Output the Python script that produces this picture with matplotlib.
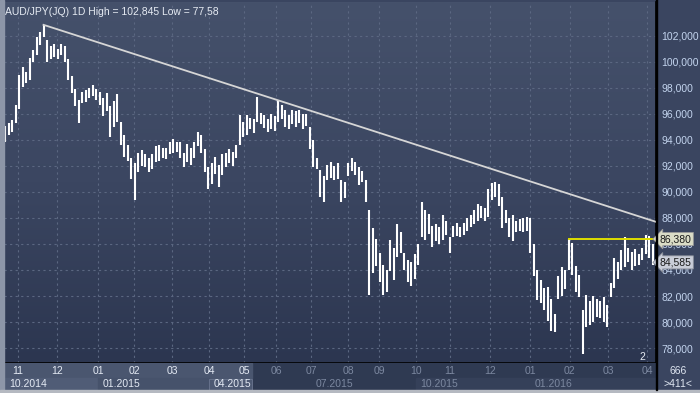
import numpy as np
import matplotlib
matplotlib.use('Agg')
from matplotlib import pyplot as plt
from matplotlib.colors import LinearSegmentedColormap
from matplotlib.patches import Rectangle

plt.rcParams['font.family'] = ['Liberation Sans', 'DejaVu Sans']

# daily bars (every second session)
lows = [93.8, 94.4, 94.6, 95.3, 96.4, 98.1, 98.4, 98.6, 100.0, 100.5,
        101.3, 101.9, 100.0, 100.2, 100.4, 100.2, 100.5, 100.0, 98.6, 97.6,
        96.6, 95.3, 96.8, 96.9, 97.2, 97.4, 97.1, 96.7, 95.8, 96.2,
        94.2, 95.0, 95.4, 93.6, 92.7, 92.4, 91.0, 89.4, 91.5, 92.0,
        91.9, 91.5, 91.8, 92.3, 92.4, 92.6, 92.5, 92.9, 93.0, 93.1,
        92.6, 91.9, 92.3, 92.1, 92.6, 93.5, 93.0, 91.5, 90.2, 90.6,
        91.4, 90.4, 91.3, 91.9, 92.2, 92.0, 92.6, 93.6, 94.2, 94.4,
        94.8, 94.5, 95.4, 95.2, 94.9, 94.6, 94.8, 94.7, 95.4, 95.6,
        95.0, 94.8, 95.2, 95.0, 95.3, 94.8, 95.1, 93.3, 91.9, 91.8,
        89.6, 89.2, 90.9, 91.1, 90.9, 91.0, 89.2, 89.5, 91.2, 91.6,
        91.3, 90.5, 90.8, 89.2, 82.1, 83.8, 84.3, 83.1, 82.1, 82.3,
        83.9, 83.2, 85.0, 85.3, 84.0, 83.1, 82.8, 83.3, 84.4, 86.5,
        86.3, 86.8, 85.8, 86.2, 86.0, 86.3, 86.7, 85.3, 86.5, 86.6,
        86.5, 86.7, 87.0, 87.3, 87.5, 87.8, 88.0, 87.8, 88.1, 89.4,
        89.6, 88.9, 87.2, 87.6, 86.5, 86.2, 86.9, 87.0, 86.9, 87.0,
        85.3, 83.5, 81.7, 81.5, 80.9, 80.1, 79.3, 79.2, 81.8, 82.0,
        82.5, 84.0, 83.6, 82.3, 81.9, 77.58, 79.6, 79.8, 80.0, 80.4,
        80.3, 80.0, 79.6, 81.9, 82.6, 83.3, 84.0, 84.2, 84.6, 84.0,
        84.3, 84.4, 84.8, 85.2, 84.9, 84.4]
highs = [95.1, 95.3, 95.5, 96.7, 99.0, 99.6, 99.2, 100.3, 100.9, 101.9,
         102.3, 102.845, 101.7, 101.2, 101.4, 101.0, 101.4, 101.2, 100.2, 98.9,
         97.9, 97.1, 97.7, 97.8, 98.0, 98.2, 97.9, 97.7, 97.2, 97.6,
         96.6, 97.0, 97.5, 95.4, 94.4, 93.6, 92.6, 92.2, 93.0, 93.2,
         92.9, 92.6, 92.9, 93.5, 93.6, 93.4, 93.4, 93.8, 94.1, 93.8,
         93.8, 93.0, 93.7, 93.4, 93.8, 94.6, 94.4, 93.3, 91.9, 92.2,
         92.7, 92.1, 92.9, 93.0, 93.3, 93.1, 93.6, 95.9, 95.4, 95.9,
         95.7, 95.6, 97.3, 96.1, 95.9, 95.6, 96.0, 95.8, 97.1, 96.7,
         96.3, 95.9, 96.3, 96.2, 96.3, 96.0, 96.0, 95.0, 94.0, 92.6,
         91.7, 91.2, 92.1, 92.3, 92.0, 92.2, 90.9, 90.8, 92.2, 92.6,
         92.3, 91.9, 91.6, 90.9, 88.6, 87.2, 86.4, 85.3, 84.4, 84.0,
         86.3, 85.7, 87.5, 86.9, 85.3, 84.8, 84.6, 85.2, 86.0, 89.2,
         88.6, 88.3, 87.4, 87.5, 87.3, 88.2, 87.8, 86.5, 87.4, 87.6,
         87.3, 87.6, 88.0, 88.2, 88.6, 89.1, 88.9, 88.8, 90.2, 90.7,
         90.8, 90.6, 89.6, 88.6, 88.0, 88.2, 87.8, 87.9, 88.0, 88.1,
         88.0, 86.0, 84.0, 83.2, 82.6, 82.7, 81.8, 80.6, 83.5, 84.2,
         84.0, 86.38, 86.1, 84.3, 83.6, 80.9, 82.1, 81.6, 82.0, 81.8,
         81.6, 81.9, 81.3, 83.0, 84.9, 84.6, 85.5, 86.5, 85.7, 85.4,
         85.6, 85.2, 85.7, 86.7, 86.6, 86.0]
last_close = 84.585
resistance = 86.38
trend_start = (11, 102.845)
trend_end = (186, 87.7)

month_labels = ['11', '12', '01', '02', '03', '04', '05', '06', '07', '08',
                '09', '10', '11', '12', '01', '02', '03', '04']
month_pos = [3.7, 14.9, 26.6, 36.9, 47.7, 58.3, 68.3, 77.4, 87.4, 98.0,
             106.9, 117.4, 127.1, 138.6, 150.0, 161.4, 172.3, 183.4]
year_labels = ['10.2014', '01.2015', '04.2015', '07.2015', '10.2015', '01.2016']
year_pos = [0.0, 26.6, 58.3, 87.4, 117.4, 150.0]
bright_until = 70.6  # highlighted part of the time band

W, H = 700, 393
fig = plt.figure(figsize=(7, 3.93), dpi=100, facecolor='#3a4560')

# frame strips
fig.patches.append(Rectangle((0, 0), 4 / W, 1, transform=fig.transFigure,
                             color='#8d96a8', zorder=0))
fig.patches.append(Rectangle((0, 0), 1, 3 / H, transform=fig.transFigure,
                             color='#b5b9c1', zorder=0))

ax = fig.add_axes([4 / W, 30 / H, 652 / W, 361 / H])
xmin, xmax = -0.29, 186.0
ymin, ymax = 76.85, 104.6

cmap = LinearSegmentedColormap.from_list('bg', ['#45516b', '#3b4661', '#2c3650'])
grad = np.linspace(0, 1, 256).reshape(-1, 1)
ax.imshow(grad, extent=[0, 1, 0, 1], transform=ax.transAxes, aspect='auto',
          cmap=cmap, zorder=0)

idx = np.arange(len(lows))
ax.vlines(idx, lows, highs, color='white', lw=1.5, zorder=3)
ax.plot([trend_start[0], trend_end[0]], [trend_start[1], trend_end[1]],
        color='#d6d6d6', lw=1.3, zorder=4)
ax.plot([161, xmax], [resistance, resistance], color='#dede00', lw=1.4, zorder=4)

ax.set_xlim(xmin, xmax)
ax.set_ylim(ymin, ymax)
ax.set_xticks(month_pos)
ax.set_xticklabels([])
ax.set_yticks(np.arange(78, 103, 2))
ax.set_yticklabels([f'{v:.3f}'.replace('.', ',') for v in np.arange(78, 103, 2)])
ax.yaxis.tick_right()
ax.tick_params(axis='y', length=0, pad=4, labelsize=7.5, labelcolor='#c3d4ee')
ax.tick_params(axis='x', length=0)
ax.grid(True, ls=(0, (2, 3)), color='#5b6781', lw=0.8, zorder=1)
for s in ['left', 'top']:
    ax.spines[s].set_visible(False)
ax.spines['right'].set_color('black')
ax.spines['bottom'].set_color('black')
ax.spines['right'].set_linewidth(1.2)
ax.spines['bottom'].set_linewidth(1.2)

# price tags on the right scale
ax.text(1.006, resistance, f'{resistance:.3f}'.replace('.', ','), transform=ax.get_yaxis_transform(),
        va='center', ha='left', fontsize=7.5, color='#1a1a1a', clip_on=False, zorder=6,
        bbox=dict(boxstyle='larrow,pad=0.15', fc='#dadcc6', ec='#9a9a9a', lw=0.6))
ax.text(1.006, last_close, f'{last_close:.3f}'.replace('.', ','), transform=ax.get_yaxis_transform(),
        va='center', ha='left', fontsize=7.5, color='#1a1a1a', clip_on=False, zorder=6,
        bbox=dict(boxstyle='larrow,pad=0.15', fc='#c9cdd8', ec='#8a8f9a', lw=0.6))

ax.text(0.002, 0.985, f'AUD/JPY(JQ) 1D High = {max(highs):.3f}'.replace('.', ',')
        + f' Low = {min(lows):.2f}'.replace('.', ','),
        transform=ax.transAxes, va='top', ha='left', fontsize=7.5, color='#e6ebf3')
ax.text(182.0, 77.3, '2', fontsize=7.5, color='#e6ebf3', ha='center', va='center')

# time band below the chart
axb = fig.add_axes([4 / W, 3 / H, 652 / W, 27 / H])
axb.set_xlim(xmin, xmax)
axb.set_ylim(27, 0)
axb.axis('off')
axb.add_patch(Rectangle((xmin, 0), xmax - xmin, 27, color='#2f3a52', zorder=0))
axb.add_patch(Rectangle((xmin, 0), bright_until - xmin, 15, color='#4a566f', zorder=1))
axb.add_patch(Rectangle((xmin, 15), year_pos[1] - xmin, 12, color='#505c76', zorder=1))
axb.add_patch(Rectangle((year_pos[1], 15), year_pos[2] - year_pos[1], 12, color='#46526b', zorder=1))
axb.add_patch(Rectangle((year_pos[2], 15.5), bright_until - year_pos[2], 11, fc='#4d5973',
                        ec='#6b7690', lw=0.6, zorder=1))
axb.add_patch(Rectangle((year_pos[4], 15), xmax - year_pos[4], 12, color='#354059', zorder=1))
for p, lab in zip(month_pos, month_labels):
    c = '#e4eaf4' if p < bright_until else '#7c88a0'
    axb.text(p, 7.5, lab, ha='center', va='center', fontsize=7.5, color=c, zorder=3)
for p, lab in zip(year_pos, year_labels):
    c = '#e4eaf4' if p < bright_until else '#7c88a0'
    axb.text(p + 1.3, 21, lab, ha='left', va='center', fontsize=7.5, color=c, zorder=3)

fig.text(678 / W, 1 - 371 / H, '666', ha='center', va='center', fontsize=7.5, color='#dfe6f1')
fig.text(678 / W, 1 - 384 / H, '>411<', ha='center', va='center', fontsize=7.5, color='#dfe6f1')
fig.patches.append(Rectangle((656 / W, 3 / H), 1.2 / W, 1, transform=fig.transFigure,
                             color='black', zorder=5))

fig.savefig('out.png', dpi=100, facecolor=fig.get_facecolor())
